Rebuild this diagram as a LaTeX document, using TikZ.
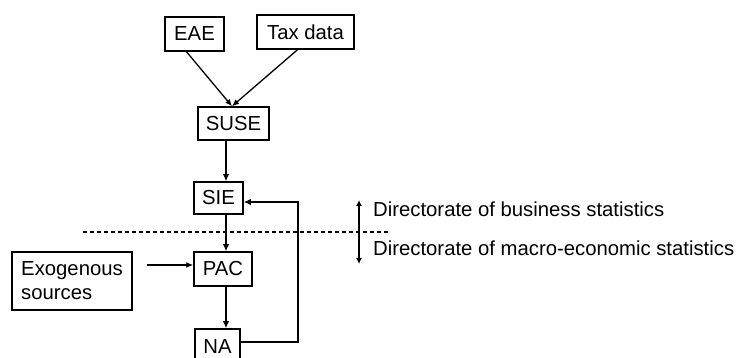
\documentclass[tikz,border=0pt]{standalone}
\usepackage{fontspec}
\setmainfont{Liberation Sans}
\usetikzlibrary{arrows.meta}
\begin{document}
\begin{tikzpicture}[x=1pt,y=-1pt,
  font=\fontsize{20.3}{24}\selectfont,
  box/.style={draw=black,line width=1.5pt,inner sep=0pt,minimum width=#1},
  thinarrow/.style={line width=1.3pt,-{Latex[length=7pt,width=6pt]}},
  thickarrow/.style={line width=2.4pt,-{Latex[length=7pt,width=6.5pt]}},
  feedarrow/.style={line width=1.5pt,-{Latex[length=7pt,width=6.5pt]}},
  sep/.style={line width=2.2pt,dash pattern=on 4pt off 3pt},
  lbl/.style={anchor=base west,inner sep=0pt}]
\useasboundingbox (0,0) rectangle (737,358);
\begin{scope}
\clip (0,0) rectangle (737,358);
\node[box=59pt,minimum height=34pt] (EAE) at (194.5,34) {EAE};
\node[box=97pt,minimum height=34pt] (Tax) at (305.5,32) {Tax data};
\node[box=71pt,minimum height=33pt] (SUSE) at (233.5,123.5) {SUSE};
\node[box=49pt,minimum height=32pt] (SIE) at (218.5,198) {SIE};
\node[box=58pt,minimum height=34pt] (PAC) at (223,269) {PAC};
\node[box=120pt,minimum height=58pt,align=left] (Exo) at (72,281) {Exogenous\\sources};
\node[box=45pt,minimum height=36pt] (NA) at (217.5,347) {NA};

\draw[thinarrow] ([xshift=-8pt]EAE.south) -- ([xshift=-1.5pt]SUSE.north);
\draw[thinarrow] ([xshift=-8pt]Tax.south) -- ([xshift=-1.5pt]SUSE.north);
\draw[thickarrow] ([xshift=-7.5pt]SUSE.south) -- ([xshift=7.5pt]SIE.north);
\draw[thickarrow] ([xshift=7.5pt]SIE.south) -- ([xshift=3pt]PAC.north);
\draw[thickarrow] ([xshift=3pt]PAC.south) -- ([xshift=8.5pt]NA.north);
\draw[feedarrow] ([yshift=5pt]NA.east) -- ++(57,0) |- ([yshift=-4pt]SIE.east);
\draw[thinarrow] ([xshift=14pt,yshift=16pt]Exo.east) -- ([yshift=4pt]PAC.west);

\coordinate (dL) at (83,232);
\coordinate (dR) at (390,232);
\draw[sep] (dL) -- (dR);

\coordinate (uT) at (359,200);
\coordinate (uB) at (359,264);
\draw[line width=2.2pt,{Latex[length=6pt,width=6pt]}-{Latex[length=6pt,width=6pt]}] (uT) -- (uB);
\node[lbl] (bus) at (373,217) {Directorate of business statistics};
\node[lbl] (mac) at (373,256) {Directorate of macro-economic statistics};
\end{scope}
\end{tikzpicture}
\end{document}
